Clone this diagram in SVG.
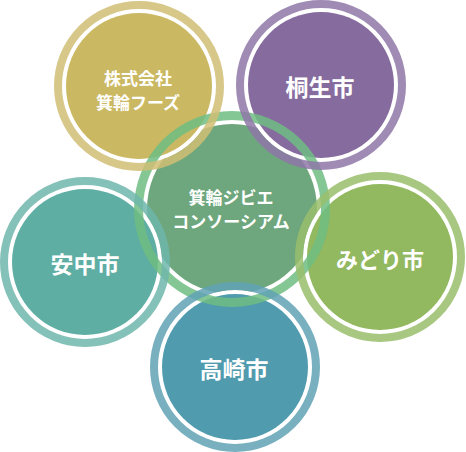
<svg xmlns="http://www.w3.org/2000/svg" width="466" height="452" viewBox="0 0 466 452">
<style>
.gap{fill:#ffffff}
.ring{fill:none;stroke-width:8;opacity:0.85}
.ring.c{stroke-width:9}
.t{font-family:"Noto Sans CJK JP","Noto Sans CJK SC",sans-serif;font-weight:bold;fill:#ffffff;text-anchor:middle;dominant-baseline:central}
.s18{font-size:17px}
.s23{font-size:23px}
</style>
<rect width="466" height="452" fill="#ffffff"/>
<g id="node-center">
<circle class="gap" cx="232" cy="209" r="89"/>
<circle cx="232" cy="209" r="85" fill="#6ea77d"/>
<text class="t s18" x="231" y="196">箕輪ジビエ</text>
<text class="t s18" x="231" y="220">コンソーシアム</text>
</g>
<g id="node-minowa-foods">
<circle class="gap" cx="139" cy="86" r="77"/>
<circle cx="139" cy="86" r="73" fill="#cbb862"/>
<text class="t s18" x="138" y="77">株式会社</text>
<text class="t s18" x="138" y="101">箕輪フーズ</text>
</g>
<g id="node-kiryu">
<circle class="gap" cx="321" cy="85" r="77"/>
<circle cx="321" cy="85" r="73" fill="#866c9e"/>
<text class="t s23" x="320" y="86">桐生市</text>
</g>
<g id="node-annaka">
<circle class="gap" cx="85" cy="262" r="77"/>
<circle cx="85" cy="262" r="73" fill="#5faea4"/>
<text class="t s23" x="85" y="263">安中市</text>
</g>
<g id="node-midori">
<circle class="gap" cx="380" cy="257" r="77"/>
<circle cx="380" cy="257" r="73" fill="#92b860"/>
<text class="t s23" x="380" y="258" style="font-size:22px">みどり市</text>
</g>
<g id="node-takasaki">
<circle class="gap" cx="235" cy="367" r="77"/>
<circle cx="235" cy="367" r="73" fill="#509bae"/>
<text class="t s23" x="234" y="368">高崎市</text>
</g>
<g id="connectors">
<circle class="ring c" cx="232" cy="209" r="93.5" stroke="#6fbd83"/>
<circle class="ring" cx="139" cy="86" r="81" stroke="#d0be74"/>
<circle class="ring" cx="321" cy="85" r="81" stroke="#8e77a7"/>
<circle class="ring" cx="85" cy="262" r="81" stroke="#6eb6ab"/>
<circle class="ring" cx="380" cy="257" r="81" stroke="#99be6c"/>
<circle class="ring" cx="235" cy="367" r="81" stroke="#60a2b5"/>
</g>
</svg>
